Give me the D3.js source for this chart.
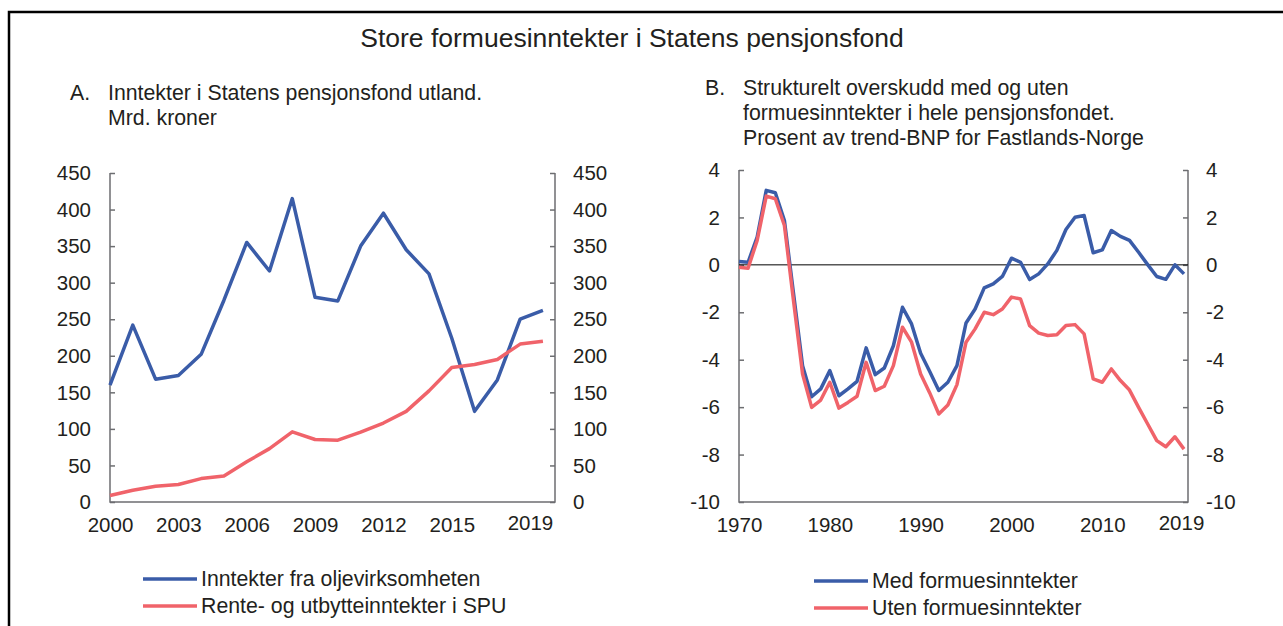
<!DOCTYPE html>
<html lang="no">
<head>
  <meta charset="UTF-8">
  <title>Store formuesinntekter i Statens pensjonsfond</title>
  <style>
    body {
      margin: 0;
      background: #fff;
      font-family: "Liberation Sans", Arial, sans-serif;
    }
    svg text {
      fill: #231f20;
    }
    .axis path, .axis line {
      stroke: #6d6e71;
      stroke-width: 1.5;
    }
  </style>
</head>
<body>
  <svg id="chart" width="1283" height="626"></svg>

  <script src="https://d3js.org/d3.v7.min.js"></script>
  <script>
    // Panel A: SPU income, billion NOK
    const yearsA = [2000, 2001, 2002, 2003, 2004, 2005, 2006, 2007, 2008, 2009,
                    2010, 2011, 2012, 2013, 2014, 2015, 2016, 2017, 2018, 2019];
    const oljeInntekter = [160, 242, 168, 173, 202, 276, 355, 316, 415, 280,
                           275, 350, 395, 345, 312, 224, 124, 167, 250, 262];
    const renteUtbytte = [9, 16, 21.5, 24, 32, 35.7, 55, 73, 96, 85.5,
                          84.5, 95.5, 108, 124, 152, 184, 188, 195, 216, 220];
    const ticksA = [0, 50, 100, 150, 200, 250, 300, 350, 400, 450];
    const yearTicksA = [2000, 2003, 2006, 2009, 2012, 2015, 2019];

    // Panel B: structural surplus, percent of trend GDP mainland Norway
    const yearsB = [1970, 1971, 1972, 1973, 1974, 1975, 1976, 1977, 1978, 1979,
                    1980, 1981, 1982, 1983, 1984, 1985, 1986, 1987, 1988, 1989,
                    1990, 1991, 1992, 1993, 1994, 1995, 1996, 1997, 1998, 1999,
                    2000, 2001, 2002, 2003, 2004, 2005, 2006, 2007, 2008, 2009,
                    2010, 2011, 2012, 2013, 2014, 2015, 2016, 2017, 2018, 2019];
    const medFormue = [0.14, 0.11, 1.17, 3.14, 3.04, 1.87, -1.2, -4.25, -5.56, -5.23,
                       -4.46, -5.52, -5.23, -4.91, -3.50, -4.63, -4.35, -3.41, -1.79, -2.49,
                       -3.73, -4.50, -5.30, -4.95, -4.25, -2.45, -1.86, -0.97, -0.80, -0.49,
                       0.28, 0.11, -0.62, -0.38, 0.04, 0.61, 1.49, 2.01, 2.08, 0.51,
                       0.63, 1.45, 1.20, 1.03, 0.53, 0.01, -0.49, -0.61, 0.0, -0.38];
    const utenFormue = [-0.10, -0.14, 1.03, 2.90, 2.79, 1.66, -1.5, -4.60, -6.01, -5.70,
                        -4.95, -6.04, -5.80, -5.54, -4.11, -5.30, -5.12, -4.25, -2.63, -3.26,
                        -4.60, -5.40, -6.29, -5.91, -5.05, -3.26, -2.70, -2.00, -2.10, -1.86,
                        -1.36, -1.44, -2.56, -2.88, -2.98, -2.95, -2.56, -2.52, -2.91, -4.81,
                        -4.95, -4.39, -4.88, -5.28, -6.01, -6.71, -7.41, -7.67, -7.25, -7.77];
    const ticksB = [-10, -8, -6, -4, -2, 0, 2, 4];
    const yearTicksB = [1970, 1980, 1990, 2000, 2010, 2019];

    const blue = "#3a5ca8";
    const red = "#f0636a";
    const fontSize = 20.5;   // tick numbers
    const textSize = 21.3;   // subtitles and legends

    const svg = d3.select("#chart");

    // frame (left and top only)
    svg.append("path")
      .attr("d", "M9,626 V12 H1283")
      .attr("fill", "none")
      .attr("stroke", "#000")
      .attr("stroke-width", 2.5);

    svg.append("text")
      .attr("x", 632)
      .attr("y", 47)
      .attr("text-anchor", "middle")
      .style("font-size", "26.5px")
      .text("Store formuesinntekter i Statens pensjonsfond");

    function subtitle(x, y, letter, lines) {
      svg.append("text").attr("x", x).attr("y", y)
        .style("font-size", textSize + "px").text(letter);
      lines.forEach((l, i) => {
        svg.append("text").attr("x", x + 38).attr("y", y + i * 25)
          .style("font-size", textSize + "px").text(l);
      });
    }
    subtitle(70, 100, "A.", ["Inntekter i Statens pensjonsfond utland.", "Mrd. kroner"]);
    subtitle(705, 95, "B.", ["Strukturelt overskudd med og uten",
                             "formuesinntekter i hele pensjonsfondet.",
                             "Prosent av trend-BNP for Fastlands-Norge"]);

    function drawPanel(opt) {
      const x = d3.scaleLinear().domain(opt.xDomain).range([opt.left, opt.right]);
      const y = d3.scaleLinear().domain(opt.yDomain).range([502, opt.top]);
      const g = svg.append("g");

      // y axes, ticks pointing inward
      const yl = g.append("g").attr("class", "axis")
        .attr("transform", `translate(${opt.left},0)`)
        .call(d3.axisRight(y).tickValues(opt.yTicks).tickSize(5).tickSizeOuter(0).tickFormat(""));
      yl.select(".domain").remove();
      const yr = g.append("g").attr("class", "axis")
        .attr("transform", `translate(${opt.right},0)`)
        .call(d3.axisLeft(y).tickValues(opt.yTicks).tickSize(5).tickSizeOuter(0).tickFormat(""));
      yr.select(".domain").remove();

      // plot frame: left, right, bottom
      g.append("path")
        .attr("d", `M${opt.left},${opt.top} V502 H${opt.right} V${opt.top}`)
        .attr("fill", "none")
        .attr("stroke", "#6d6e71")
        .attr("stroke-width", 1.5);

      // tick labels both sides
      opt.yTicks.forEach(t => {
        g.append("text").attr("x", opt.left - 19).attr("y", y(t))
          .attr("dy", "0.35em").attr("text-anchor", "end")
          .style("font-size", fontSize + "px").text(t);
        g.append("text").attr("x", opt.right + 18).attr("y", y(t))
          .attr("dy", "0.35em")
          .style("font-size", fontSize + "px").text(t);
      });

      if (opt.zeroLine) {
        g.append("line")
          .attr("x1", opt.left).attr("x2", opt.right)
          .attr("y1", y(0)).attr("y2", y(0))
          .attr("stroke", "#000").attr("stroke-width", 1);
      }

      // x labels
      const xa = g.append("g")
        .attr("transform", "translate(0,502)")
        .call(d3.axisBottom(x).tickValues(opt.xTicks).tickSize(0).tickPadding(15).tickFormat(d3.format("d")));
      xa.select(".domain").remove();
      xa.selectAll("text")
        .style("font-size", fontSize + "px")
        .style("font-family", "'Liberation Sans', Arial, sans-serif")
        .attr("fill", "#231f20");
      xa.selectAll("text").filter(d => d === opt.xTicks[opt.xTicks.length - 1])
        .attr("transform", `translate(${opt.lastShift},-2)`);

      const line = d3.line().x((d, i) => x(opt.years[i])).y(d => y(d));
      opt.series.forEach(s => {
        g.append("path")
          .datum(s.values)
          .attr("fill", "none")
          .attr("stroke", s.color)
          .attr("stroke-width", 3.5)
          .attr("stroke-linejoin", "round")
          .attr("d", line);
      });

      // legend
      opt.series.forEach((s, i) => {
        const ly = opt.legendY + i * 27;
        g.append("line")
          .attr("x1", opt.legendX).attr("x2", opt.legendX + 54)
          .attr("y1", ly).attr("y2", ly)
          .attr("stroke", s.color).attr("stroke-width", 3.5);
        g.append("text").attr("x", opt.legendX + 58).attr("y", ly)
          .attr("dy", "0.35em")
          .style("font-size", textSize + "px").text(s.name);
      });
    }

    drawPanel({
      left: 110, right: 555, top: 173,
      xDomain: [2000, 2019.53], yDomain: [0, 450],
      years: yearsA, yTicks: ticksA, xTicks: yearTicksA,
      lastShift: -13,
      series: [
        { name: "Inntekter fra oljevirksomheten", values: oljeInntekter, color: blue },
        { name: "Rente- og utbytteinntekter i SPU", values: renteUtbytte, color: red }
      ],
      legendX: 143, legendY: 579
    });

    drawPanel({
      left: 739, right: 1188, top: 170,
      xDomain: [1970, 2019.44], yDomain: [-10, 4],
      years: yearsB, yTicks: ticksB, xTicks: yearTicksB,
      lastShift: -3,
      zeroLine: true,
      series: [
        { name: "Med formuesinntekter", values: medFormue, color: blue },
        { name: "Uten formuesinntekter", values: utenFormue, color: red }
      ],
      legendX: 814, legendY: 581
    });
  </script>
</body>
</html>
